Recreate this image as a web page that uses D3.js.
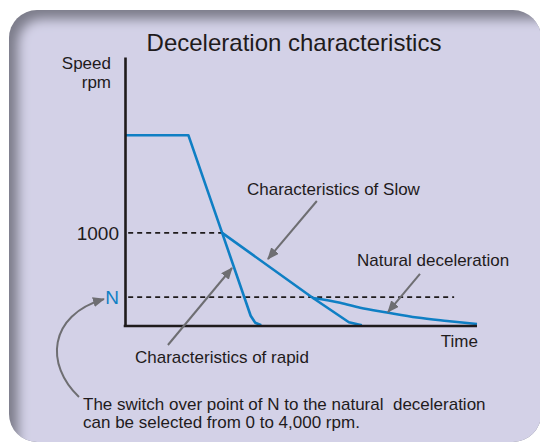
<!DOCTYPE html>
<html>
<head>
<meta charset="utf-8">
<script src="https://cdn.jsdelivr.net/npm/d3@7"></script>
<style>
  html, body { margin: 0; padding: 0; background: #fff; }
  svg { display: block; font-family: "Liberation Sans", Arial, Helvetica, sans-serif; }
</style>
</head>
<body>
<div id="chart"></div>
<script>
// DATA (time in arbitrary units, speed in rpm)
const switchSpeed = 310; // the "N" level
const tickValues = [1000, switchSpeed];
const tickLabels = ['1000', 'N'];
const rapidTime = [0, 18, 27.6, 35.7, 37, 38.7];
const rapidSpeed = [2050, 2050, 1000, 110, 35, 8];
const slowTime = [27.6, 53.4, 61.4, 63.6, 67.3];
const slowSpeed = [1000, 301, 97, 40, 8];
const naturalTime = [53.4, 61.1, 66.8, 74.4, 83, 91.5, 100];
const naturalSpeed = [301, 250, 196, 145, 91, 54, 21];
// dashed guide lines: [fromTime, toTime, speed]
const guides = [[0.9, 27.6, 1000], [0.9, 93.5, switchSpeed]];
// annotation arrows: [startTime, startSpeed, tipTime, tipSpeed]
const arrows = [
  [54.5, 1343, 40.6, 720],   // slow
  [12.2, -204, 30.4, 623],   // rapid
  [83.8, 559, 74.7, 150]     // natural
];
const arrowLabels = ['Characteristics of Slow', 'Characteristics of rapid', 'Natural deceleration'];
const noteLines = ['The switch over point of N to the natural  deceleration',
                   'can be selected from 0 to 4,000 rpm.'];

// SETUP
const W = 540, H = 443;
const svg = d3.select('#chart').append('svg').attr('width', W).attr('height', H);
const defs = svg.append('defs');

// panel with soft inner shading on the top / left edges
defs.append('clipPath').attr('id', 'panelClip')
    .append('rect').attr('x', 9).attr('y', 10).attr('width', 532).attr('height', 432).attr('rx', 28);
const blur = defs.append('filter').attr('id', 'soft').attr('x', '-10%').attr('y', '-10%').attr('width', '120%').attr('height', '120%');
blur.append('feGaussianBlur').attr('stdDeviation', 6);

const panel = svg.append('g').attr('clip-path', 'url(#panelClip)');
panel.append('rect').attr('x', 0).attr('y', 0).attr('width', W).attr('height', H).style('fill', '#7c7c8a');
panel.append('rect').attr('x', 18).attr('y', 19).attr('width', 560).attr('height', 460).attr('rx', 24)
     .style('fill', '#d3d1e7').attr('filter', 'url(#soft)');

// arrow head
defs.append('marker').attr('id', 'head').attr('viewBox', '0 0 12 10')
    .attr('refX', 11).attr('refY', 5).attr('markerWidth', 12).attr('markerHeight', 10)
    .attr('markerUnits', 'userSpaceOnUse').attr('orient', 'auto')
    .append('path').attr('d', 'M0,0 L12,5 L0,10 Z').style('fill', '#6e6e72');

// SCALES
const x = d3.scaleLinear().domain([0, 100]).range([125, 477]);
const y = d3.scaleLinear().domain([0, 2890]).range([326, 57]);

const textCol = '#1f1b1c';
const blue = '#0f7fc4';

// title
svg.append('text').attr('x', 294).attr('y', 51).attr('text-anchor', 'middle')
   .style('font-size', '24px').style('fill', textCol).text('Deceleration characteristics');

// y label
const yLab = svg.append('text').attr('text-anchor', 'end').style('font-size', '17px').style('fill', textCol);
yLab.append('tspan').attr('x', 111).attr('y', 69).text('Speed');
yLab.append('tspan').attr('x', 111).attr('y', 88).text('rpm');

// dashed guides
svg.append('g').selectAll('line').data(guides).enter().append('line')
   .attr('x1', d => x(d[0])).attr('x2', d => x(d[1]))
   .attr('y1', d => y(d[2])).attr('y2', d => y(d[2]))
   .style('stroke', textCol).style('stroke-width', 1.6).style('stroke-dasharray', '5,4');

// lines
const line = d3.line().x(d => x(d[0])).y(d => y(d[1]));
const smooth = d3.line().x(d => x(d[0])).y(d => y(d[1])).curve(d3.curveMonotoneX);
const series = [
  {pts: d3.zip(rapidTime, rapidSpeed), gen: line},
  {pts: d3.zip(slowTime, slowSpeed), gen: line},
  {pts: d3.zip(naturalTime, naturalSpeed), gen: smooth}
];
svg.append('g').selectAll('path').data(series).enter().append('path')
   .attr('d', d => d.gen(d.pts))
   .style('fill', 'none').style('stroke', blue).style('stroke-width', 2.6).style('stroke-linejoin', 'round');

// axes
const yAxis = svg.append('g').attr('transform', 'translate(' + x(0) + ',0)')
   .call(d3.axisLeft(y).tickValues(tickValues).tickSize(0).tickPadding(6)
         .tickFormat((d, i) => tickLabels[i]));
const xAxis = svg.append('g').attr('transform', 'translate(0,' + y(0) + ')')
   .call(d3.axisBottom(x).tickValues([]).tickSize(0).tickSizeOuter(0));
yAxis.select('.domain').style('stroke', textCol).style('stroke-width', 2.6);
xAxis.select('.domain').style('stroke', textCol).style('stroke-width', 2.6).attr('d', 'M' + (x(0) - 1.3) + ',0H' + x(100));
yAxis.selectAll('.tick text').style('font-size', '19px').style('font-family', '"Liberation Sans", Arial, sans-serif')
   .style('fill', (d, i) => i === 1 ? blue : textCol).attr('dy', '0.36em');

svg.append('text').attr('x', x(100) + 1).attr('y', y(0) + 21).attr('text-anchor', 'end')
   .style('font-size', '17px').style('fill', textCol).text('Time');

// annotation arrows + labels
svg.append('g').selectAll('line').data(arrows).enter().append('line')
   .attr('x1', d => x(d[0])).attr('y1', d => y(d[1]))
   .attr('x2', d => x(d[2])).attr('y2', d => y(d[3]))
   .style('stroke', '#6e6e72').style('stroke-width', 2).attr('marker-end', 'url(#head)');

const labelPos = [[247, 195], [135, 363], [357, 266]];
svg.append('g').selectAll('text').data(arrowLabels).enter().append('text')
   .attr('x', (d, i) => labelPos[i][0]).attr('y', (d, i) => labelPos[i][1])
   .style('font-size', '17px').style('fill', textCol).text(d => d);

// curved arrow to N
const nY = y(switchSpeed);
svg.append('path')
   .attr('d', 'M79,397 C45,365 48,' + (nY + 18) + ' 104,' + (nY + 2))
   .style('fill', 'none').style('stroke', '#6e6e72').style('stroke-width', 2).attr('marker-end', 'url(#head)');

// note
svg.append('g').selectAll('text').data(noteLines).enter().append('text')
   .attr('x', 83).attr('y', (d, i) => 410 + i * 18)
   .style('font-size', '17px').style('fill', textCol).style('white-space', 'pre')
   .text(d => d);
</script>
</body>
</html>
